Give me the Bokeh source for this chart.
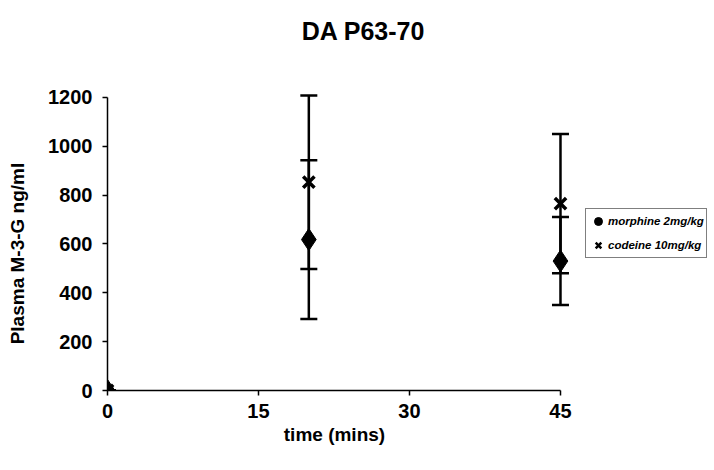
from bokeh.plotting import figure
from bokeh.models import Range1d, ColumnDataSource, Whisker, Legend, LegendItem, FixedTicker, TeeHead, Label
from bokeh.embed import file_html
from bokeh.resources import INLINE

times = [0, 20, 45]
morphine = [0, 618, 530]
morphine_err = [0, 325, 180]
codeine = [0, 853, 765]
codeine_err = [0, 355, 285]
x_ticks = [0, 15, 30, 45]
y_ticks = [0, 200, 400, 600, 800, 1000, 1200]
title_text = "DA P63-70"
x_label = "time (mins)"
y_label = "Plasma M-3-G ng/ml"
series_names = ["morphine 2mg/kg", "codeine 10mg/kg"]

FONT = "Liberation Sans"
NBSP = "\u00a0"

# frame covers the whole area right of / above the axes; axis lines limited with bounds
p = figure(width=714, height=470, output_backend="svg", toolbar_location=None,
           x_range=Range1d(0, 60.3), y_range=Range1d(0, 1597),
           min_border_left=107, min_border_right=0, min_border_top=0, min_border_bottom=80)
p.frame_width = 607
p.frame_height = 390
p.title.visible = False
p.outline_line_color = None
p.xgrid.visible = False
p.ygrid.visible = False
p.background_fill_color = "white"
p.border_fill_color = "white"

for ax in (p.xaxis[0], p.yaxis[0]):
    ax.axis_line_color = "black"
    ax.axis_line_width = 1.5
    ax.major_tick_line_color = "black"
    ax.major_tick_line_width = 1.5
    ax.minor_tick_line_color = None
    ax.major_tick_in = 0
    ax.major_tick_out = 5
    ax.major_label_text_font = FONT
    ax.major_label_text_font_style = "bold"
    ax.major_label_text_font_size = "20px"
    ax.major_label_text_color = "black"
    ax.axis_label_text_font = FONT
    ax.axis_label_text_font_style = "bold"
    ax.axis_label_text_font_size = "19px"
    ax.axis_label_text_color = "black"

p.xaxis.bounds = (0, 45)
p.yaxis.bounds = (0, 1200)
p.xaxis.ticker = FixedTicker(ticks=x_ticks)
p.yaxis.ticker = FixedTicker(ticks=y_ticks)
p.xaxis.major_label_standoff = 8
p.yaxis.major_label_standoff = 10
# the axis labels are centred on the (large) frame; pad them so they sit centred on the axis lines
p.xaxis.axis_label = x_label + NBSP * 29
p.yaxis.axis_label = y_label + NBSP * 22
p.xaxis.axis_label_standoff = 3
p.yaxis.axis_label_standoff = 17

src = ColumnDataSource(dict(
    t=times,
    m=morphine,
    m_lo=[v - e for v, e in zip(morphine, morphine_err)],
    m_hi=[v + e for v, e in zip(morphine, morphine_err)],
    c=codeine,
    c_lo=[v - e for v, e in zip(codeine, codeine_err)],
    c_hi=[v + e for v, e in zip(codeine, codeine_err)],
))

for lo, hi in (("m_lo", "m_hi"), ("c_lo", "c_hi")):
    w = Whisker(source=src, base="t", lower=lo, upper=hi, dimension="height",
                line_color="black", line_width=2.5,
                upper_head=TeeHead(size=17, line_color="black", line_width=2.5),
                lower_head=TeeHead(size=17, line_color="black", line_width=2.5))
    p.add_layout(w)

p.scatter("t", "m", source=src, marker="diamond", size=22,
          fill_color="black", line_color="black")
p.scatter("t", "c", source=src, marker="x", size=16,
          line_color="black", line_width=3.5)

# legend-only renderers (no data drawn) so the legend glyphs keep their own look
nan = float("nan")
lm = p.scatter([nan], [nan], marker="circle", fill_color="black", line_color="black")
lc = p.scatter([nan], [nan], marker="x", line_color="black", line_width=2.5)

legend = Legend(items=[LegendItem(label=series_names[0], renderers=[lm]),
                       LegendItem(label=series_names[1], renderers=[lc])],
                location=(478, 132))
legend.label_text_font = FONT
legend.label_text_font_style = "bold italic"
legend.label_text_font_size = "11.5px"
legend.label_text_color = "black"
legend.border_line_color = "black"
legend.border_line_width = 1
legend.background_fill_color = "white"
legend.background_fill_alpha = 1
legend.glyph_width = 20
legend.glyph_height = 20
legend.label_height = 20
legend.label_standoff = 0
legend.spacing = 4
legend.padding = 2
legend.margin = 0
p.add_layout(legend, "center")

title = Label(x=25.43, y=1474, text=title_text, text_align="center", text_baseline="middle",
              text_font=FONT, text_font_style="bold", text_font_size="25px", text_color="black")
p.add_layout(title)

open("out.html", "w").write(file_html(p, INLINE))
